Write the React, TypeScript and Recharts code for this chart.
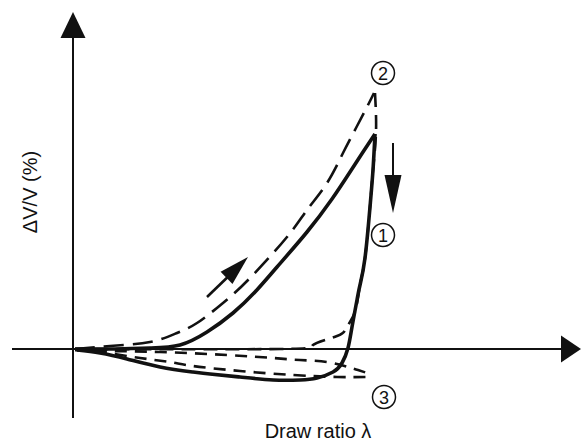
import React from "react";
import { LineChart, Line, XAxis, YAxis, ReferenceLine, ReferenceDot } from "recharts";

// Schematic units: origin at the axes crossing, x = draw ratio, y = ΔV/V
const solidLoading = [
  { x: 2, y: 0 }, { x: 37, y: 0 }, { x: 77, y: 1 }, { x: 107, y: 4 }, { x: 134, y: 17 },
  { x: 160, y: 36 }, { x: 182, y: 57 }, { x: 204, y: 82 }, { x: 234, y: 117 },
  { x: 259, y: 150 }, { x: 277, y: 177 }, { x: 290, y: 197 }, { x: 302, y: 215 },
];
const solidUnloading = [
  { x: 302, y: 215 }, { x: 300, y: 179 }, { x: 297, y: 142 }, { x: 292, y: 91 },
  { x: 287, y: 64 }, { x: 284, y: 49 }, { x: 279, y: 22 }, { x: 275, y: 1 },
  { x: 269, y: -14 }, { x: 260, y: -23 }, { x: 244, y: -29 }, { x: 227, y: -31 },
  { x: 200, y: -31 }, { x: 167, y: -28 }, { x: 137, y: -25 }, { x: 120, y: -23 },
  { x: 87, y: -18 }, { x: 54, y: -10 }, { x: 27, y: -4 }, { x: 4, y: -1 },
];
const dashedLoading = [
  { x: 2, y: 0 }, { x: 37, y: 3 }, { x: 77, y: 7 }, { x: 104, y: 16 }, { x: 124, y: 26 },
  { x: 150, y: 46 }, { x: 177, y: 71 }, { x: 214, y: 112 }, { x: 234, y: 139 },
  { x: 254, y: 166 }, { x: 270, y: 196 }, { x: 283, y: 221 }, { x: 294, y: 242 }, { x: 301, y: 256 },
];
const dashedUnloading = [
  { x: 302, y: 256 }, { x: 303, y: 217 }, { x: 300, y: 179 }, { x: 297, y: 142 },
  { x: 292, y: 91 }, { x: 287, y: 64 }, { x: 283, y: 41 }, { x: 277, y: 27 },
  { x: 272, y: 19 }, { x: 264, y: 13 }, { x: 240, y: 4 }, { x: 207, y: 0 }, { x: 2, y: 0 },
];
const wedgeUpper = [
  { x: 2, y: -1 }, { x: 37, y: -2 }, { x: 87, y: -3 }, { x: 154, y: -6 }, { x: 200, y: -9 },
  { x: 227, y: -11 }, { x: 254, y: -13 }, { x: 275, y: -18 }, { x: 285, y: -21 }, { x: 297, y: -25 },
];
const wedgeLower = [
  { x: 2, y: -1 }, { x: 27, y: -3 }, { x: 67, y: -9 }, { x: 97, y: -13 }, { x: 120, y: -17 },
  { x: 167, y: -22 }, { x: 220, y: -26 }, { x: 264, y: -28 }, { x: 297, y: -28 },
];
const loadArrow = [{ x: 134, y: 52 }, { x: 162, y: 79 }];
const loadArrowTip = { x: 175, y: 92 };
const unloadArrow = [{ x: 320, y: 206 }, { x: 320, y: 171 }];
const unloadArrowTip = { x: 320, y: 136 };
const markers = [
  { label: "2", x: 310, y: 276 },
  { label: "1", x: 310, y: 114 },
  { label: "3", x: 311, y: -48 },
];
const xLabel = "Draw ratio λ";
const yLabel = "ΔV/V (%)";

const INK = "#111";
const FONT = "'Liberation Sans', Arial, Helvetica, sans-serif";

const arrowHead = (angle: number, len: number, halfW: number) => (props: any) => {
  const { cx, cy } = props;
  if (cx == null || cy == null) return <g />;
  return (
    <polygon
      points={`0,0 ${-len},${-halfW} ${-len},${halfW}`}
      transform={`translate(${cx},${cy}) rotate(${angle})`}
      fill={INK}
      stroke="none"
    />
  );
};

const circled = (label: string) => (props: any) => {
  const { cx, cy } = props;
  return (
    <g>
      <circle cx={cx} cy={cy} r={11.5} fill="none" stroke={INK} strokeWidth={1.5} />
      <text x={cx} y={cy + 6.5} textAnchor="middle" fontFamily={FONT} fontSize={18} fill={INK}>
        {label}
      </text>
    </g>
  );
};

const xText = (props: any) => (
  <text x={props.cx} y={props.cy} textAnchor="middle" fontFamily={FONT} fontSize={20} fill={INK}>
    {xLabel}
  </text>
);
const yText = (props: any) => (
  <text
    x={props.cx}
    y={props.cy}
    textAnchor="middle"
    fontFamily={FONT}
    fontSize={20}
    fill={INK}
    transform={`rotate(-90 ${props.cx} ${props.cy})`}
  >
    {yLabel}
  </text>
);

export default function App() {
  return (
    <div style={{ position: "absolute", left: 0, top: 0, width: 581, height: 443, background: "#fff" }}>
      <LineChart width={581} height={443} margin={{ top: 0, right: 0, bottom: 0, left: 0 }}>
        <XAxis hide type="number" dataKey="x" domain={[-73, 508]} allowDataOverflow />
        <YAxis hide type="number" dataKey="y" domain={[-94, 349]} allowDataOverflow />
        <ReferenceLine
          segment={[{ x: 0, y: 311 }, { x: 0, y: -69 }]}
          stroke={INK}
          strokeWidth={2}
          ifOverflow="visible"
        />
        <ReferenceLine
          segment={[{ x: -61, y: 0 }, { x: 490, y: 0 }]}
          stroke={INK}
          strokeWidth={2}
          ifOverflow="visible"
        />
        <ReferenceDot x={0} y={337} r={1} ifOverflow="visible" shape={arrowHead(-90, 26, 12.5)} />
        <ReferenceDot x={508} y={0} r={1} ifOverflow="visible" shape={arrowHead(0, 20, 13.5)} />

        <Line data={wedgeUpper} dataKey="y" type="natural" stroke={INK} strokeWidth={2.6} strokeDasharray="12 8" dot={false} activeDot={false} isAnimationActive={false} />
        <Line data={wedgeLower} dataKey="y" type="natural" stroke={INK} strokeWidth={2.6} strokeDasharray="12 8" dot={false} activeDot={false} isAnimationActive={false} />
        <Line data={dashedUnloading} dataKey="y" type="natural" stroke={INK} strokeWidth={2.6} strokeDasharray="14 8" dot={false} activeDot={false} isAnimationActive={false} />
        <Line data={dashedLoading} dataKey="y" type="natural" stroke={INK} strokeWidth={2.6} strokeDasharray="20 9" dot={false} activeDot={false} isAnimationActive={false} />
        <Line data={solidLoading} dataKey="y" type="natural" stroke={INK} strokeWidth={3.6} dot={false} activeDot={false} isAnimationActive={false} />
        <Line data={solidUnloading} dataKey="y" type="natural" stroke={INK} strokeWidth={3.6} dot={false} activeDot={false} isAnimationActive={false} />

        <Line data={loadArrow} dataKey="y" type="linear" stroke={INK} strokeWidth={2.6} dot={false} activeDot={false} isAnimationActive={false} />
        <ReferenceDot x={loadArrowTip.x} y={loadArrowTip.y} r={1} ifOverflow="visible" shape={arrowHead(-44.3, 30, 8.5)} />
        <Line data={unloadArrow} dataKey="y" type="linear" stroke={INK} strokeWidth={2} dot={false} activeDot={false} isAnimationActive={false} />
        <ReferenceDot x={unloadArrowTip.x} y={unloadArrowTip.y} r={1} ifOverflow="visible" shape={arrowHead(90, 38, 8.5)} />

        {markers.map((m) => (
          <ReferenceDot key={m.label} x={m.x} y={m.y} r={1} ifOverflow="visible" shape={circled(m.label)} />
        ))}
        <ReferenceDot x={245} y={-89} r={1} ifOverflow="visible" shape={xText} />
        <ReferenceDot x={-36} y={157} r={1} ifOverflow="visible" shape={yText} />
      </LineChart>
    </div>
  );
}
